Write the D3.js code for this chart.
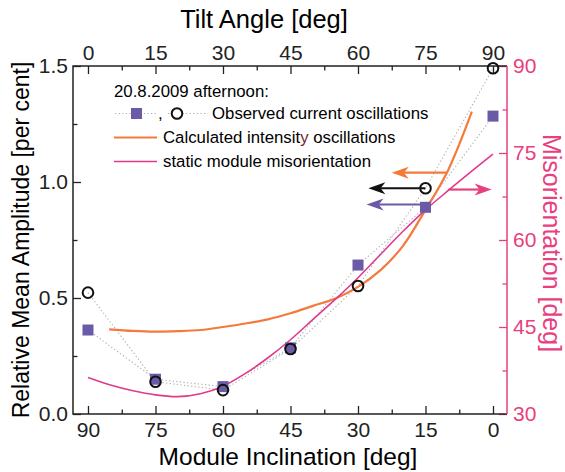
<!DOCTYPE html>
<html><head><meta charset="utf-8">
<script src="https://cdn.jsdelivr.net/npm/d3@7"></script>
<style>
body{margin:0;background:#fff;}
text{font-family:"Liberation Sans",Arial,sans-serif;}
</style></head>
<body>
<svg id="c" width="565" height="472"></svg>
<script>
// ---- data ----
const inclinations = [90, 75, 60, 45, 30, 15, 0];
const squareValues = [0.362, 0.150, 0.118, 0.285, 0.642, 0.891, 1.284];
const circleValues = [0.523, 0.139, 0.103, 0.280, 0.552, 0.973, 1.490];
const calcIncl = [85.3, 80, 75, 70, 65, 60, 55, 50, 45, 40, 35, 30, 25, 20, 15, 10, 4.7];
const calcValues = [0.365, 0.358, 0.355, 0.357, 0.362, 0.375, 0.390, 0.408, 0.434, 0.466, 0.498, 0.548, 0.620, 0.725, 0.880, 1.050, 1.303];
const misIncl = [90, 85, 80, 75, 70, 65, 60, 55, 50, 45, 40, 35, 30, 25, 20, 15, 10, 5, 0];
const misValues = [36.3, 35.0, 34.0, 33.3, 33.0, 33.5, 34.8, 37.0, 39.7, 42.8, 46.3, 49.8, 53.5, 57.5, 61.5, 65.2, 68.5, 71.7, 74.8];
const bottomTicks = [90, 75, 60, 45, 30, 15, 0];
const topTicks = [0, 15, 30, 45, 60, 75, 90];
const leftTicks = [0.0, 0.5, 1.0, 1.5];
const rightTicks = [30, 45, 60, 75, 90];
// arrows: from/to inclination, value on left (L) or right (R) axis
const arrows = [
  {from: 10.3, to: 22.5, v: 1.04, axis: "L", color: "#f47a3c"},
  {from: 15, to: 27.7, v: 0.973, axis: "L", color: "#111"},
  {from: 15, to: 28.1, v: 0.903, axis: "L", color: "#6b5ba6"},
  {from: 9.9, to: 0.3, v: 68.7, axis: "R", color: "#e8407f"}
];

const ORANGE = "#f47a3c", PINK = "#e03a8c", AXPINK = "#e8407f", PURPLE = "#6b5ba6";
const L = 73, R = 507, T = 66, B = 414;
const svg = d3.select("#c");

const x = d3.scaleLinear().domain([93.33, -3.11]).range([L, R]);
const xTop = d3.scaleLinear().domain([90 - 93.33, 90 + 3.11]).range([L, R]);
const yL = d3.scaleLinear().domain([0, 1.5]).range([B, T]);
const yR = d3.scaleLinear().domain([30, 90]).range([B, T]);

function minor(a, b, step) { const r = []; for (let v = a; v <= b + 1e-9; v += step) r.push(v); return r; }

function styleAxis(g, col) {
  g.select(".domain").remove();
  g.selectAll("line").attr("stroke", col).attr("stroke-width", 1.3);
  g.selectAll("text").attr("fill", col).style("font-size", "21px");
}
// minor ticks
svg.append("g").attr("transform", `translate(0,${B})`)
  .call(d3.axisBottom(x).tickValues(minor(7.5, 82.5, 15)).tickSize(-4.5).tickFormat(""))
  .call(g => styleAxis(g, "#222"));
svg.append("g").attr("transform", `translate(0,${T})`)
  .call(d3.axisTop(xTop).tickValues(minor(7.5, 82.5, 15)).tickSize(-4.5).tickFormat(""))
  .call(g => styleAxis(g, "#222"));
svg.append("g").attr("transform", `translate(${L},0)`)
  .call(d3.axisLeft(yL).tickValues([0.25, 0.75, 1.25]).tickSize(-4.5).tickFormat(""))
  .call(g => styleAxis(g, "#222"));
svg.append("g").attr("transform", `translate(${R},0)`)
  .call(d3.axisRight(yR).tickValues([37.5, 52.5, 67.5, 82.5]).tickSize(-4.5).tickFormat(""))
  .call(g => styleAxis(g, AXPINK));
// major ticks
svg.append("g").attr("transform", `translate(0,${B})`)
  .call(d3.axisBottom(x).tickValues(bottomTicks).tickSize(-8).tickPadding(8).tickFormat(d3.format("d")))
  .call(g => styleAxis(g, "#222"));
svg.append("g").attr("transform", `translate(0,${T})`)
  .call(d3.axisTop(xTop).tickValues(topTicks).tickSize(-8).tickPadding(6).tickFormat(d3.format("d")))
  .call(g => styleAxis(g, "#222"));
svg.append("g").attr("transform", `translate(${L},0)`)
  .call(d3.axisLeft(yL).tickValues(leftTicks).tickSize(-8).tickPadding(5).tickFormat(d3.format(".1f")))
  .call(g => styleAxis(g, "#222"));
svg.append("g").attr("transform", `translate(${R},0)`)
  .call(d3.axisRight(yR).tickValues(rightTicks).tickSize(-8).tickPadding(6).tickFormat(d3.format("d")))
  .call(g => styleAxis(g, AXPINK));

// frame
svg.append("path").attr("d", `M${R},${T}H${L}V${B}H${R}`).attr("fill", "none").attr("stroke", "#222").attr("stroke-width", 1.5);
svg.append("line").attr("x1", R).attr("x2", R).attr("y1", T).attr("y2", B).attr("stroke", AXPINK).attr("stroke-width", 1.5);

// dotted connecting lines
const sqPts = inclinations.map((d, i) => [d, squareValues[i]]);
const ciPts = inclinations.map((d, i) => [d, circleValues[i]]);
const lineL = d3.line().x(d => x(d[0])).y(d => yL(d[1]));
[sqPts, ciPts].forEach(p => svg.append("path").attr("d", lineL(p)).attr("fill", "none")
  .attr("stroke", "#b0b0b0").attr("stroke-width", 1.1).attr("stroke-dasharray", "1.3,2.3"));

// curves
const calcPts = calcIncl.map((d, i) => [d, calcValues[i]]);
svg.append("path").attr("d", d3.line().curve(d3.curveCatmullRom).x(d => x(d[0])).y(d => yL(d[1]))(calcPts))
  .attr("fill", "none").attr("stroke", ORANGE).attr("stroke-width", 2.2);
const misPts = misIncl.map((d, i) => [d, misValues[i]]);
svg.append("path").attr("d", d3.line().curve(d3.curveCatmullRom).x(d => x(d[0])).y(d => yR(d[1]))(misPts))
  .attr("fill", "none").attr("stroke", PINK).attr("stroke-width", 1.6);

// markers
svg.selectAll("rect.sq").data(sqPts).join("rect").attr("class", "sq")
  .attr("x", d => x(d[0]) - 5.5).attr("y", d => yL(d[1]) - 5.5).attr("width", 11).attr("height", 11).attr("fill", PURPLE);
svg.selectAll("circle.ci").data(ciPts).join("circle").attr("class", "ci")
  .attr("cx", d => x(d[0])).attr("cy", d => yL(d[1])).attr("r", 5.3).attr("fill", "none").attr("stroke", "#111").attr("stroke-width", 2);

// arrows
arrows.forEach(a => {
  const yy = a.axis === "L" ? yL(a.v) : yR(a.v);
  const x1 = x(a.from), x2 = x(a.to);
  const dir = Math.sign(x2 - x1), hl = 17, hw = 6;
  svg.append("line").attr("x1", x1).attr("x2", x2 - dir * hl * 0.7).attr("y1", yy).attr("y2", yy)
    .attr("stroke", a.color).attr("stroke-width", 2.2);
  svg.append("path").attr("d", `M${x2},${yy}L${x2 - dir * hl},${yy - hw}L${x2 - dir * hl * 0.72},${yy}L${x2 - dir * hl},${yy + hw}Z`)
    .attr("fill", a.color);
});

// legend
const lg = svg.append("g").style("font-size", "16.8px");
lg.append("text").attr("x", 114).attr("y", 97).text("20.8.2009 afternoon:");
lg.append("line").attr("x1", 115).attr("x2", 157).attr("y1", 113.5).attr("y2", 113.5).attr("stroke", "#b0b0b0").attr("stroke-dasharray", "1.3,2.3");
lg.append("line").attr("x1", 168).attr("x2", 208).attr("y1", 113.5).attr("y2", 113.5).attr("stroke", "#b0b0b0").attr("stroke-dasharray", "1.3,2.3");
lg.append("rect").attr("x", 131).attr("y", 108).attr("width", 11).attr("height", 11).attr("fill", PURPLE);
lg.append("text").attr("x", 158).attr("y", 119).text(",");
lg.append("circle").attr("cx", 177).attr("cy", 113.5).attr("r", 5.3).attr("fill", "#fff").attr("stroke", "#111").attr("stroke-width", 2);
lg.append("text").attr("x", 212).attr("y", 119).text("Observed current oscillations");
lg.append("line").attr("x1", 114).attr("x2", 157).attr("y1", 137.5).attr("y2", 137.5).attr("stroke", ORANGE).attr("stroke-width", 2.2);
const t2 = lg.append("text").attr("x", 163).attr("y", 143);
t2.append("tspan").text("Calculated intensit");
t2.append("tspan").attr("fill", "#7a1e2a").text("y");
t2.append("tspan").text(" oscillations");
lg.append("line").attr("x1", 114).attr("x2", 157).attr("y1", 161.5).attr("y2", 161.5).attr("stroke", PINK).attr("stroke-width", 1.6);
lg.append("text").attr("x", 163).attr("y", 167).text("static module misorientation");

// axis titles
svg.append("text").attr("x", 264).attr("y", 28).attr("text-anchor", "middle").style("font-size", "25.5px").text("Tilt Angle [deg]");
svg.append("text").attr("x", 288).attr("y", 465).attr("text-anchor", "middle").style("font-size", "24.5px").text("Module Inclination [deg]");
svg.append("text").attr("transform", "translate(29,240) rotate(-90)").attr("text-anchor", "middle").style("font-size", "23px").text("Relative Mean Amplitude [per cent]");
svg.append("text").attr("transform", "translate(543,243) rotate(90)").attr("text-anchor", "middle").style("font-size", "25px").attr("fill", AXPINK).text("Misorientation [deg]");
</script>
</body></html>
